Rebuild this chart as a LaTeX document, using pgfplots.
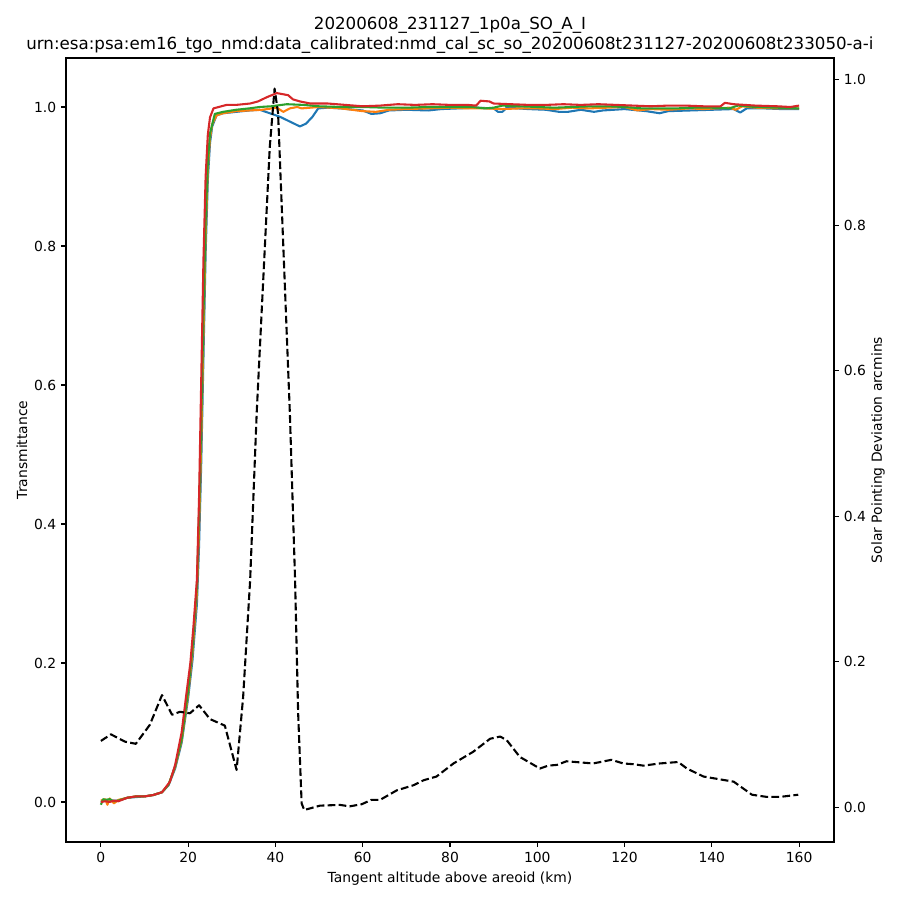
\documentclass[border=0pt]{standalone}
\usepackage{pgfplots}
\pgfplotsset{compat=1.18}
\usepackage{fontspec}
\setmainfont{DejaVu Sans}
\definecolor{tabblue}{HTML}{1F77B4}
\definecolor{taborange}{HTML}{FF7F0E}
\definecolor{tabgreen}{HTML}{2CA02C}
\definecolor{tabred}{HTML}{D62728}
\begin{document}
\begin{tikzpicture}
\path[use as bounding box] (0,0) rectangle (648pt,648pt);
\pgfplotsset{
  every axis/.append style={
    scale only axis, width=552.96pt, height=564.48pt,
    at={(47.52pt,41.76pt)}, anchor=south west,
    xmin=-8, xmax=168,
    tick align=outside, major tick length=3.5pt,
    every tick/.style={black, line width=0.8pt},
    axis line style={line width=0.8pt},
    tick label style={font=\fontsize{10}{12}\selectfont},
    label style={font=\fontsize{10}{12}\selectfont},
    /pgf/number format/assume math mode=true,
  }
}
\begin{axis}[
  ymin=-0.0576, ymax=1.0705,
  xtick={0,20,...,160},
  ytick={0,0.2,...,1.0},
  xtick pos=bottom, ytick pos=left,
  yticklabel style={/pgf/number format/.cd, fixed, fixed zerofill, precision=1},
  xlabel={Tangent altitude above areoid (km)},
  ylabel={Transmittance},
  xlabel style={yshift=0pt},
  ylabel style={yshift=-2pt},
  title style={font=\fontsize{12}{14.4}\selectfont, align=center, at={(0.5,1)}, anchor=south, yshift=-6.5pt},
  title={20200608\_231127\_1p0a\_SO\_A\_I\\urn:esa:psa:em16\_tgo\_nmd:data\_calibrated:nmd\_cal\_sc\_so\_20200608t231127-20200608t233050-a-i},
  every axis plot/.append style={line width=1.5pt, line join=round},
]
% blue
\addplot[tabblue] coordinates {
(0,0.000)(1,0.003)(2,0.001)(3,0.002)(4,0.002)(6,0.006)(8,0.007)(10,0.008)(12,0.010)(14,0.014)(15.5,0.024)(17,0.048)(18.5,0.085)(20,0.150)(21,0.205)(22,0.285)(22.5,0.370)(23,0.490)(23.5,0.640)(24,0.790)(24.5,0.895)(25,0.948)(25.5,0.972)(26.5,0.988)(28,0.991)(31,0.993)(34,0.995)(36.4,0.996)(38.7,0.991)(41,0.986)(43.3,0.979)(45.6,0.972)(47,0.976)(48.5,0.986)(49.8,0.998)(52,0.999)(55,0.998)(58,0.996)(60,0.995)(62,0.990)(64,0.991)(66,0.995)(70,0.996)(75,0.995)(78,0.997)(82,0.998)(86,0.999)(90,0.998)(91,0.993)(92,0.993)(93,0.999)(98,0.997)(102,0.996)(105,0.993)(107,0.993)(110,0.996)(113,0.993)(115,0.995)(120,0.997)(125,0.994)(128,0.991)(130,0.994)(135,0.995)(140,0.996)(145,0.997)(146.5,0.992)(148,0.998)(152,0.998)(156,0.997)(160,0.997)
};
% orange
\addplot[taborange] coordinates {
(0,0.002)(1,0.004)(1.5,-0.004)(2,0.005)(3,-0.002)(4,0.003)(6,0.006)(8,0.008)(10,0.008)(12,0.010)(14,0.014)(15.5,0.025)(17,0.050)(18.5,0.088)(20,0.155)(21,0.215)(22,0.300)(22.5,0.395)(23,0.520)(23.5,0.670)(24,0.815)(24.5,0.910)(25,0.955)(25.5,0.975)(26.5,0.988)(28,0.991)(31,0.994)(34,0.995)(37,0.996)(40.3,0.999)(41.8,0.993)(43.3,0.998)(45,1.000)(46,0.998)(50,1.000)(55,0.998)(60,0.994)(63,0.993)(66,0.996)(70,0.997)(75,0.998)(80,0.999)(84,0.998)(88,0.998)(92,0.997)(96,0.998)(100,0.998)(104,0.997)(108,0.999)(112,0.998)(116,0.999)(120,1.000)(123,0.995)(126,0.997)(130,0.996)(135,0.998)(138,0.997)(141,0.998)(144,0.999)(145.5,0.996)(147,1.001)(150,0.999)(155,0.998)(160,0.998)
};
% green
\addplot[tabgreen] coordinates {
(0,-0.004)(0.5,0.004)(1,0.003)(2,0.004)(3,0.001)(4,0.002)(6,0.006)(8,0.008)(10,0.008)(12,0.010)(14,0.014)(15.5,0.025)(17,0.051)(18.5,0.090)(20,0.160)(21,0.222)(22,0.310)(22.5,0.415)(23,0.550)(23.5,0.700)(24,0.835)(24.5,0.920)(25,0.962)(26.1,0.990)(28,0.993)(31,0.996)(34,0.998)(36.4,1.000)(39,1.001)(42.6,1.004)(46.4,1.003)(50,1.001)(55,1.000)(60,1.000)(65,0.999)(70,0.999)(75,1.000)(80,1.000)(85,1.000)(88,0.998)(90,0.999)(92,1.002)(96,1.001)(100,1.000)(104,0.999)(108,1.000)(112,1.001)(116,1.001)(120,1.000)(124,0.998)(128,0.998)(132,0.998)(136,0.999)(140,0.999)(144,0.998)(146,1.002)(150,1.000)(155,0.999)(160,0.998)
};
% red
\addplot[tabred] coordinates {
(0,0.000)(1,0.001)(2,0.000)(3,0.002)(4,0.001)(6,0.006)(8,0.008)(10,0.008)(12,0.010)(14,0.014)(15.8,0.029)(17,0.053)(18.5,0.100)(19.6,0.156)(20.5,0.200)(21.2,0.252)(22,0.320)(22.5,0.440)(23,0.610)(23.5,0.780)(24,0.900)(24.5,0.960)(25,0.985)(25.8,0.998)(28.8,1.003)(31,1.003)(34.2,1.005)(36,1.008)(38,1.014)(40.3,1.020)(42.9,1.017)(44,1.011)(45.6,1.008)(48,1.005)(52,1.005)(56,1.003)(60,1.001)(64,1.002)(68,1.004)(72,1.003)(76,1.004)(80,1.003)(84,1.003)(86,1.002)(87,1.009)(89,1.008)(90,1.005)(94,1.004)(98,1.003)(102,1.003)(106,1.004)(110,1.003)(114,1.004)(118,1.003)(122,1.002)(126,1.001)(130,1.002)(134,1.002)(138,1.001)(142,1.001)(143,1.006)(145,1.004)(150,1.002)(155,1.001)(158,1.000)(160,1.002)
};
\end{axis}
\begin{axis}[
  ymin=-0.048, ymax=1.030,
  axis x line=none,
  axis y line*=right,
  ytick={0,0.2,...,1.0},
  yticklabel style={/pgf/number format/.cd, fixed, fixed zerofill, precision=1},
  ylabel={Solar Pointing Deviation arcmins},
  ylabel style={yshift=3pt},
]
\addplot[black, line width=1.5pt, line join=round, dash pattern=on 5.55pt off 2.4pt] coordinates {
(0,0.091)(2.3,0.100)(5.5,0.090)(8,0.087)(11.2,0.113)(14,0.154)(16.3,0.127)(18.1,0.131)(20.4,0.129)(22.5,0.140)(25,0.121)(28.4,0.112)(31.1,0.051)(32.6,0.152)(34.2,0.312)(35.7,0.542)(37.2,0.725)(38.7,0.908)(39.8,0.988)(40.6,0.954)(41.8,0.771)(43.3,0.542)(44.5,0.312)(45.2,0.129)(46.0,0.005)(46.6,-0.004)(50.2,0.002)(54.8,0.003)(57,0.001)(59.8,0.004)(62,0.010)(64,0.010)(67.8,0.023)(71.6,0.030)(74,0.037)(76.9,0.042)(80.8,0.060)(85.3,0.076)(89.2,0.094)(91.5,0.097)(93,0.092)(96,0.069)(100.6,0.053)(102.5,0.057)(104.5,0.058)(106.7,0.063)(112.8,0.060)(117,0.065)(119.7,0.060)(122,0.059)(124.3,0.057)(128.1,0.060)(132.3,0.062)(134.3,0.053)(138.1,0.042)(142,0.038)(145,0.035)(149.2,0.017)(152.6,0.014)(155.6,0.014)(159.8,0.017)
};
\end{axis}
\end{tikzpicture}
\end{document}
